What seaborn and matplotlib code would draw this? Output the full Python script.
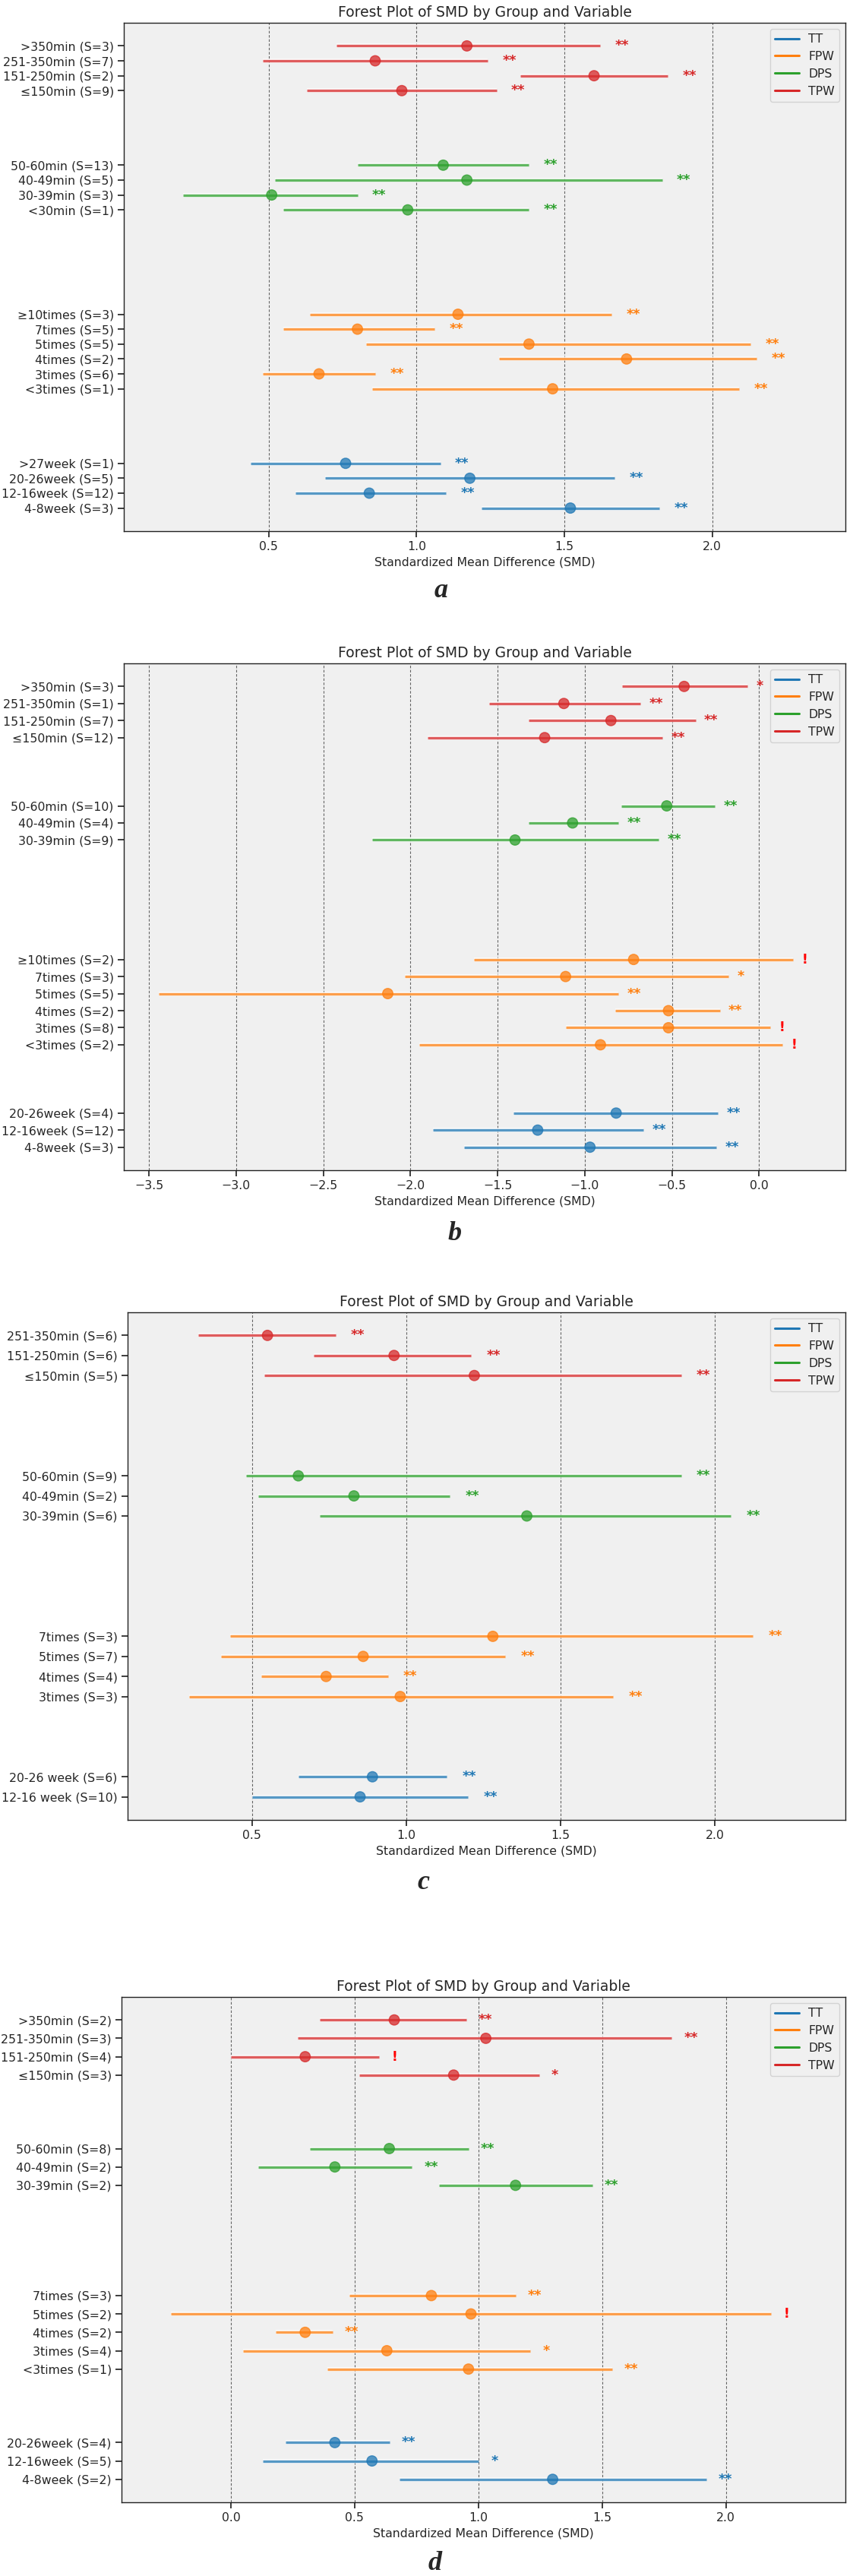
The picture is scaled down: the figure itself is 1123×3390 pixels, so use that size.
import matplotlib
matplotlib.use("Agg")
import matplotlib.pyplot as plt
from matplotlib.lines import Line2D
import seaborn as sns
import pandas as pd

# ---------------- data (rows listed top to bottom) ----------------
GROUPS_ORDER = ["TT", "FPW", "DPS", "TPW"]
GROUP_COLORS = {"TT": "#1f77b4", "FPW": "#ff7f0e", "DPS": "#2ca02c", "TPW": "#d62728"}

A_LABELS = [">350min (S=3)", "251-350min (S=7)", "151-250min (S=2)", "≤150min (S=9)",
            "50-60min (S=13)", "40-49min (S=5)", "30-39min (S=3)", "<30min (S=1)",
            "≥10times (S=3)", "7times (S=5)", "5times (S=5)", "4times (S=2)", "3times (S=6)", "<3times (S=1)",
            ">27week (S=1)", "20-26week (S=5)", "12-16week (S=12)", "4-8week (S=3)"]
A_GROUP = ["TPW"] * 4 + ["DPS"] * 4 + ["FPW"] * 6 + ["TT"] * 4
A_SMD = [1.17, 0.86, 1.60, 0.95, 1.09, 1.17, 0.51, 0.97, 1.14, 0.80, 1.38, 1.71, 0.67, 1.46, 0.76, 1.18, 0.84, 1.52]
A_LO = [0.73, 0.48, 1.35, 0.63, 0.80, 0.52, 0.21, 0.55, 0.64, 0.55, 0.83, 1.28, 0.48, 0.85, 0.44, 0.69, 0.59, 1.22]
A_HI = [1.62, 1.24, 1.85, 1.27, 1.38, 1.83, 0.80, 1.38, 1.66, 1.06, 2.13, 2.15, 0.86, 2.09, 1.08, 1.67, 1.10, 1.82]
A_SIG = ["**"] * 18

B_LABELS = [">350min (S=3)", "251-350min (S=1)", "151-250min (S=7)", "≤150min (S=12)",
            "50-60min (S=10)", "40-49min (S=4)", "30-39min (S=9)",
            "≥10times (S=2)", "7times (S=3)", "5times (S=5)", "4times (S=2)", "3times (S=8)", "<3times (S=2)",
            "20-26week (S=4)", "12-16week (S=12)", "4-8week (S=3)"]
B_GROUP = ["TPW"] * 4 + ["DPS"] * 3 + ["FPW"] * 6 + ["TT"] * 3
B_SMD = [-0.43, -1.12, -0.85, -1.23, -0.53, -1.07, -1.40, -0.72, -1.11, -2.13, -0.52, -0.52, -0.91, -0.82, -1.27, -0.97]
B_LO = [-0.785, -1.55, -1.32, -1.90, -0.79, -1.32, -2.22, -1.635, -2.03, -3.444, -0.825, -1.11, -1.95, -1.41, -1.87, -1.69]
B_HI = [-0.065, -0.68, -0.365, -0.556, -0.253, -0.807, -0.575, 0.195, -0.176, -0.807, -0.226, 0.065, 0.133, -0.238, -0.665, -0.244]
B_SIG = ["*", "**", "**", "**", "**", "**", "**", "!", "*", "**", "**", "!", "!", "**", "**", "**"]

C_LABELS = ["251-350min (S=6)", "151-250min (S=6)", "≤150min (S=5)",
            "50-60min (S=9)", "40-49min (S=2)", "30-39min (S=6)",
            "7times (S=3)", "5times (S=7)", "4times (S=4)", "3times (S=3)",
            "20-26 week (S=6)", "12-16 week (S=10)"]
C_GROUP = ["TPW"] * 3 + ["DPS"] * 3 + ["FPW"] * 4 + ["TT"] * 2
C_SMD = [0.55, 0.96, 1.22, 0.65, 0.83, 1.39, 1.28, 0.86, 0.74, 0.98, 0.89, 0.85]
C_LO = [0.327, 0.70, 0.54, 0.48, 0.52, 0.72, 0.43, 0.40, 0.53, 0.297, 0.65, 0.50]
C_HI = [0.77, 1.21, 1.89, 1.89, 1.14, 2.05, 2.122, 1.32, 0.94, 1.67, 1.13, 1.20]
C_SIG = ["**"] * 12

D_LABELS = [">350min (S=2)", "251-350min (S=3)", "151-250min (S=4)", "≤150min (S=3)",
            "50-60min (S=8)", "40-49min (S=2)", "30-39min (S=2)",
            "7times (S=3)", "5times (S=2)", "4times (S=2)", "3times (S=4)", "<3times (S=1)",
            "20-26week (S=4)", "12-16week (S=5)", "4-8week (S=2)"]
D_GROUP = ["TPW"] * 4 + ["DPS"] * 3 + ["FPW"] * 5 + ["TT"] * 3
D_SMD = [0.66, 1.03, 0.30, 0.90, 0.64, 0.42, 1.15, 0.81, 0.97, 0.30, 0.63, 0.96, 0.42, 0.57, 1.30]
D_LO = [0.36, 0.27, 0.00, 0.52, 0.32, 0.11, 0.84, 0.48, -0.242, 0.18, 0.05, 0.39, 0.22, 0.13, 0.68]
D_HI = [0.95, 1.78, 0.60, 1.245, 0.96, 0.73, 1.46, 1.15, 2.183, 0.41, 1.21, 1.54, 0.64, 1.00, 1.92]
D_SIG = ["**", "**", "!", "*", "**", "**", "**", "**", "!", "**", "*", "**", "**", "*", "**"]

PANEL_LETTERS = ["a", "b", "c", "d"]
TITLE = "Forest Plot of SMD by Group and Variable"
XLABEL = "Standardized Mean Difference (SMD)"

# ---------------- layout ----------------
W, H = 1123, 3390
# blank rows above TT, FPW, DPS groups (from bottom)
GAPS = [[4, 6, 4], [3, 6, 3], [3, 5, 4], [3, 5, 3]]
AX_BOX = [(163, 1113, 30, 699), (163, 1113, 873, 1540), (168, 1113, 1727, 2395), (160, 1113, 2628, 3293)]
LETTER_POS = [(581, 777), (599, 1623), (557, 2478), (573, 3373)]
FS_TICK = 11.3
FS_TITLE = 13.5

sns.set_theme(style="ticks", rc={"axes.facecolor": "#f0f0f0"})
plt.rcParams["font.family"] = ["DejaVu Sans"]

fig = plt.figure(figsize=(W / 100, H / 100), dpi=100)

panels = [
    (A_LABELS, A_GROUP, A_SMD, A_LO, A_HI, A_SIG),
    (B_LABELS, B_GROUP, B_SMD, B_LO, B_HI, B_SIG),
    (C_LABELS, C_GROUP, C_SMD, C_LO, C_HI, C_SIG),
    (D_LABELS, D_GROUP, D_SMD, D_LO, D_HI, D_SIG),
]

for pi, (labels, groups, smd, lo, hi, sig) in enumerate(panels):
    df = pd.DataFrame({"label": labels, "group": groups, "smd": smd, "lo": lo, "hi": hi, "sig": sig})
    # compute y positions: bottom group (TT) starts at 0
    ypos = {}
    start = 0
    for gi, g in enumerate(GROUPS_ORDER):
        sub = df[df["group"] == g]
        n = len(sub)
        for i, idx in enumerate(sub.index):
            ypos[idx] = start + (n - 1 - i)
        if gi < 3:
            start += n + GAPS[pi][gi]
    df["y"] = [ypos[i] for i in df.index]

    l, r, t, b = AX_BOX[pi]
    ax = fig.add_axes([l / W, 1 - b / H, (r - l) / W, (b - t) / H])
    ax.set_facecolor("#f0f0f0")

    for g in GROUPS_ORDER:
        sub = df[df["group"] == g]
        ax.hlines(sub["y"], sub["lo"], sub["hi"], color="white", lw=4.0, alpha=0.8, zorder=1.9)
        ax.hlines(sub["y"], sub["lo"], sub["hi"], color=GROUP_COLORS[g], lw=2.4, alpha=0.75, zorder=2)
    sns.scatterplot(data=df, x="smd", y="y", hue="group", palette=GROUP_COLORS, s=95, alpha=0.75,
                    edgecolor=[GROUP_COLORS[g] for g in df["group"]], linewidth=1, legend=False,
                    ax=ax, zorder=3)

    for _, row in df.iterrows():
        c = "red" if row["sig"] == "!" else GROUP_COLORS[row["group"]]
        ax.text(row["hi"] + 0.05, row["y"], row["sig"], color=c, fontsize=12.5, fontweight="bold",
                ha="left", va="center", zorder=4)

    ymax = df["y"].max()
    ax.set_ylim(-0.05 * ymax, 1.05 * ymax)
    ax.set_xlim(df["lo"].min() - 0.2, df["hi"].max() + 0.3)
    ax.set_yticks(df["y"])
    ax.set_yticklabels(df["label"], fontsize=FS_TICK)
    ax.tick_params(axis="x", labelsize=FS_TICK)
    ax.grid(axis="x", linestyle=(0, (3, 2)), color="#555555", lw=0.8, alpha=0.9)
    ax.grid(axis="y", visible=False)
    ax.set_axisbelow(True)
    for sp in ax.spines.values():
        sp.set_visible(True)
        sp.set_color("#222222")
        sp.set_linewidth(1.0)
    ax.set_title(TITLE, fontsize=FS_TITLE)
    ax.set_xlabel(XLABEL, fontsize=FS_TICK)
    ax.set_ylabel("")

    handles = [Line2D([0], [0], color=GROUP_COLORS[g], lw=2.2) for g in GROUPS_ORDER]
    ax.legend(handles, GROUPS_ORDER, loc="upper right", fontsize=FS_TICK)

    lx, ly = LETTER_POS[pi]
    fig.text(lx / W, 1 - ly / H, PANEL_LETTERS[pi], family=["Liberation Serif", "DejaVu Serif"],
             fontsize=26, fontweight="bold", fontstyle="italic", ha="center", va="center")

fig.savefig("out.png", dpi=100, facecolor="white")
